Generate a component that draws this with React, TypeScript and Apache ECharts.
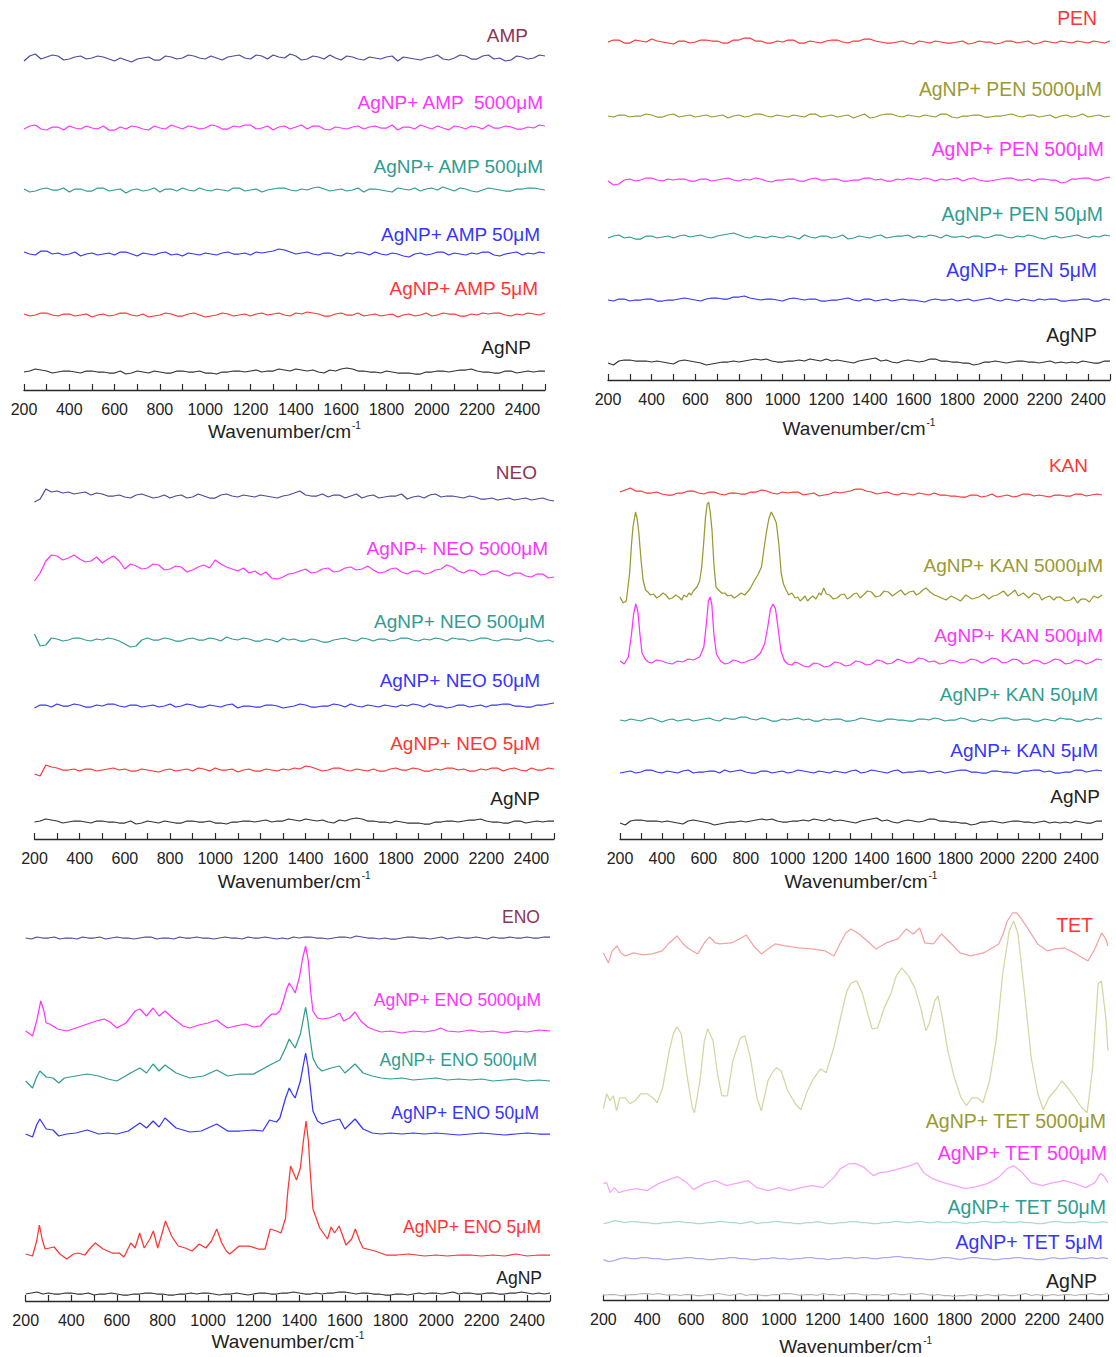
import React, { useEffect, useRef } from "react";
import * as echarts from "echarts";

// ---------- shared x grid (wavenumber, cm-1) ----------
const WN = [
  200, 225, 250, 275, 300, 325, 350, 375, 400, 425,
  450, 475, 500, 525, 550, 575, 600, 625, 650, 675,
  700, 725, 750, 775, 800, 825, 850, 875, 900, 925,
  950, 975, 1000, 1025, 1050, 1075, 1100, 1125, 1150, 1175,
  1200, 1225, 1250, 1275, 1300, 1325, 1350, 1375, 1400, 1425,
  1450, 1475, 1500, 1525, 1550, 1575, 1600, 1625, 1650, 1675,
  1700, 1725, 1750, 1775, 1800, 1825, 1850, 1875, 1900, 1925,
  1950, 1975, 2000, 2025, 2050, 2075, 2100, 2125, 2150, 2175,
  2200, 2225, 2250, 2275, 2300, 2325, 2350, 2375, 2400, 2425,
  2450, 2475, 2500,
];
const TICK_MIN = 200;
const TICK_MAX = 2500;
const AXIS_TITLE = "{a|Wavenumber/cm}{b|-1}";

// ---------- trace labels ----------
const AMP_LABELS = ["AMP", "AgNP+ AMP  5000μM", "AgNP+ AMP 500μM", "AgNP+ AMP 50μM", "AgNP+ AMP 5μM", "AgNP"];
const PEN_LABELS = ["PEN", "AgNP+ PEN 5000μM", "AgNP+ PEN 500μM", "AgNP+ PEN 50μM", "AgNP+ PEN 5μM", "AgNP"];
const NEO_LABELS = ["NEO", "AgNP+ NEO 5000μM", "AgNP+ NEO 500μM", "AgNP+ NEO 50μM", "AgNP+ NEO 5μM", "AgNP"];
const KAN_LABELS = ["KAN", "AgNP+ KAN 5000μM", "AgNP+ KAN 500μM", "AgNP+ KAN 50μM", "AgNP+ KAN 5μM", "AgNP"];
const ENO_LABELS = ["ENO", "AgNP+ ENO 5000μM", "AgNP+ ENO 500μM", "AgNP+ ENO 50μM", "AgNP+ ENO 5μM", "AgNP"];
const TET_LABELS = ["TET", "AgNP+ TET 5000μM", "AgNP+ TET 500μM", "AgNP+ TET 50μM", "AgNP+ TET 5μM", "AgNP"];

// ---------- stacking offsets (a.u.) of flat / noisy spectra ----------
const AMP_OFFSETS = [332, 262, 200, 136, 75, 18];
const PEN_OFFSETS = [338, 264, 200, 143, 80, 18];
const NEO_OFFSETS = [342, 0, 199, 133, 69, 17];
const KAN_OFFSETS = [345, 0, 0, 119, 67, 17];
const ENO_OFFSETS = [363, 0, 0, 0, 0, 7];
const TET_OFFSETS = [0, 0, 0, 78, 42, 5];

// ---------- noise of the flat spectra (a.u., on WN grid) ----------
const AMP_AMP = [
  -3, 2, 4, -1, 1, 3, 2, -2, -1, 1, 2, -1, 0, 2, 1, -1, -3, 0, -2, -4,
  -1, 0, 1, -2, -2, 2, 1, -1, 0, 3, 2, 0, -1, 2, 0, -2, 1, 2, 3, 0,
  -1, 3, 2, -1, 3, 1, 0, 4, 2, -2, -1, 2, 1, -1, 3, 0, -2, 2, 1, -1,
  -2, 1, 0, -1, 1, 2, -3, 1, 0, -1, -2, 0, 1, 3, -1, -2, 0, 3, 2, -1,
  -1, 2, 3, -1, 0, -3, -2, 2, 1, -1, 0, 3, 2,
];
const AMP_5000 = [
  -1, 2, 3, -1, -2, 1, 1, -2, 2, 0, -1, 2, 0, -1, 2, -2, -2, 1, -1, 2,
  1, -1, -2, 2, 0, -1, 3, 1, -1, 2, 1, -1, 0, 3, 2, -1, -1, 2, 1, 3,
  3, -1, 0, 2, -2, 1, 2, -1, 1, 3, -1, 2, 2, -1, -2, 1, 0, -1, 1, 2,
  -1, 1, 2, 0, 0, 3, -2, 1, 1, -1, 3, 1, -1, 2, 0, -2, 2, 1, -1, 2,
  1, -1, 3, 0, 0, 2, 1, -1, -1, 1, 0, 3, 2,
];
const AMP_500 = [
  1, -2, -1, 1, 2, 0, 0, 2, -2, 1, 1, -1, -1, 2, 2, -1, 0, 1, -3, 0,
  1, -1, 0, 2, -2, 1, 1, -1, 2, 0, -1, 2, 0, -1, 1, 0, -1, 2, 2, -1,
  0, 1, -2, 0, 1, 2, 2, 0, -1, 1, 0, 2, 3, 1, -1, 0, 1, -1, 0, 2,
  -2, 1, 1, 0, -1, -2, 2, 1, 0, 2, -1, 1, 2, 0, 3, 1, -1, 2, 1, -1,
  -2, 0, 2, 1, 0, -1, -1, 1, 1, 2, 2, 1, 0,
];
const AMP_50 = [
  2, 0, -1, 3, 3, 0, 1, -1, 0, 2, -2, 0, 1, -1, 0, 1, -1, 2, 2, 0,
  -2, 1, 0, -1, 1, 2, -1, 0, -2, 1, 0, -1, 1, 0, -1, 1, 2, 0, 0, 1,
  -1, 2, 1, 2, 3, 5, 4, 2, 0, 1, 2, 0, -1, 1, 1, -1, -2, 1, 0, 2,
  1, -1, 2, 0, -1, 1, 0, -2, -3, 0, 1, -1, 0, 2, 2, -1, 1, 0, -1, 1,
  0, 2, 2, -1, -2, 0, 1, 2, -1, 1, 0, 2, 1,
];
const AMP_5 = [
  1, -1, 0, 2, 2, 0, -1, 1, 1, -1, 0, 1, -2, 0, 1, -1, 0, 2, 2, 0,
  -1, 1, -2, -1, 0, 2, 1, -1, -1, 1, 2, 0, -2, -1, 0, 2, 1, -1, 0, 1,
  -1, 1, 2, 0, 1, 2, 0, -1, 2, 1, 3, 2, 1, -1, -1, 1, 2, 0, 0, 2,
  -1, 0, 1, -1, 0, 1, -2, 0, 1, -1, 0, 2, -1, 0, 2, 1, 1, -1, -1, 1,
  0, 2, 1, 2, 2, 0, -1, 1, 0, 2, 1, 0, 2,
];
const AGNP_A = [
  0, 1, 3, 2, 1, -1, 0, 1, 1, 0, -1, 1, 1, 0, 0, -1, -1, 1, -2, -1,
  1, 0, -1, 1, 0, -1, -1, 1, 1, 0, 0, 1, -1, -1, -2, 0, 0, 1, 1, 0,
  1, 2, 0, 1, 1, 3, 2, 1, 3, 2, 1, 2, 0, -1, 2, 1, 3, 4, 3, 1,
  1, 0, 0, -1, 1, 0, -1, -1, -1, -2, -2, 0, 0, 1, 1, 0, 1, 2, 2, 3,
  1, 0, 0, -1, -1, 1, 1, -1, 0, 1, 0, 1, 1,
];

const PEN_PEN = [
  0, 2, 2, -1, -1, 2, 1, 0, 3, 1, 0, -1, -2, 1, 1, -1, 0, 2, 2, 1,
  1, -1, -1, 2, 2, 4, 4, 1, 1, -1, -1, 1, 0, 2, 2, -1, -1, 1, 0, -1,
  1, 2, 2, 0, -1, 1, 1, 3, 3, 1, 0, -1, -1, 0, 1, -1, -2, 1, 0, -1,
  1, 0, -1, -1, 0, 1, -2, -1, 1, 0, 0, -2, -1, 1, 1, -1, 0, 1, -2, -1,
  1, 0, -1, 1, 0, -1, 1, 0, -1, 1, 0, -1, 1,
];
const PEN_5000 = [
  0, -1, 1, 1, -1, 0, 0, 2, 1, -1, -1, 1, 2, -1, 0, 1, -1, 0, 1, -1,
  0, 1, -2, 0, 1, -1, 0, 2, 2, 0, -1, 1, 0, -1, 1, 0, -1, 2, 2, -1,
  0, 1, -1, 0, 1, -2, 0, 2, -2, -1, 1, 2, 2, 0, -1, 1, 0, -1, 1, 0,
  -1, 2, 2, -1, -2, 0, 0, 1, 1, -1, -1, 0, 0, 1, 2, 0, -1, 1, 1, -1,
  0, 1, -2, 0, 1, -1, 0, 2, -1, 0, 1, -1, 0,
];
const PEN_500 = [
  -1, -5, -4, 0, 1, -1, 0, 2, 2, 0, -1, 1, 0, 1, 1, -1, -1, 1, 1, -1,
  0, 1, 2, 0, -1, 1, 0, 2, 1, -1, -2, 0, 0, 1, 1, -1, -1, 1, 2, 0,
  0, 1, 1, -1, -1, 0, 0, 2, 2, 0, 1, -1, -1, 1, 0, 2, 1, 0, 2, 1,
  -1, 1, 0, 1, 2, -1, 1, 2, 0, -1, -1, 0, 1, 2, 2, 0, 0, 1, -1, 1,
  1, 0, 0, -3, -2, 1, 1, 2, 2, 0, 0, 2, 3,
];
const PEN_50 = [
  -1, 1, 2, -1, 0, -2, -2, 1, 1, -1, 0, 1, -1, 1, 2, 0, 1, 2, 0, -1,
  1, 2, 3, 4, 2, 0, -1, 1, 0, -1, 1, 0, -1, 1, 0, -2, 2, 0, -1, 1,
  1, -1, 0, 2, -2, -1, 1, 0, -1, 1, 2, -1, 0, 1, 1, 2, -1, 1, 0, 2,
  1, -1, 2, 0, 0, 1, -1, 1, 1, -1, 0, 2, 2, 0, -1, 1, 0, 2, 1, -1,
  -2, 0, 1, -1, 0, 1, 2, 0, -1, 1, 0, 2, 1,
];
const PEN_5 = [
  0, -1, 1, 1, -1, 0, 0, 1, 1, -1, -1, 0, 0, 1, 2, 1, 0, -1, 1, 2,
  2, 1, 1, 3, 3, 4, 2, 1, 0, 1, 1, 0, -1, 1, 2, 1, 0, 1, 1, -1,
  -1, 0, 0, 1, 2, 0, -1, 1, 1, -1, 0, 1, -1, 0, 1, 0, 0, -1, -2, 0,
  1, 0, 0, 1, -1, 0, 1, -1, 0, 1, 2, 0, -1, 1, 0, -1, 1, 0, -1, 1,
  0, 1, 1, -1, -1, 0, 0, 1, 1, -1, -1, 1, 0,
];
const AGNP_B = [
  -1, -3, 1, 2, 2, 1, 1, 1, 0, 1, 0, -1, -2, 1, 2, 1, 0, -1, -3, -2,
  -1, 0, 0, 1, 0, 1, 2, 3, 2, 3, 1, 0, 0, 1, 1, 2, 1, 3, 2, 1,
  3, 1, 2, 1, 0, -1, 1, 2, 3, 4, 1, 2, 0, -1, 1, 2, 1, 0, 1, 3,
  3, 1, 1, 0, 0, -1, -1, -3, -2, 0, 0, 1, 0, -1, 0, 1, 1, 0, 0, -1,
  0, 1, -1, 0, -1, 0, -1, 1, 0, -1, -1, 1, 1,
];

const NEO_NEO = [
  -5, -2, 8, 5, 6, 4, 5, 3, 4, 5, 2, 4, 3, 1, 1, 2, 0, -1, 2, 3,
  1, -1, 0, 2, -1, 1, 2, -1, 0, 3, 1, -1, -1, 2, 3, 1, 0, 2, 1, 0,
  2, 1, 0, -1, 1, 2, 4, 6, 2, 1, 1, 3, 0, 2, 2, -1, 1, 3, -1, 1,
  2, -1, 0, 1, 1, 3, -2, 0, 1, -1, 2, 3, 0, 1, 1, 0, -1, 1, 0, -2,
  -2, -1, -3, -2, -1, -3, -2, -1, -3, -2, -1, -3, -4,
];
const NEO_5000 = [
  258, 266, 278, 284, 283, 279, 281, 284, 280, 277, 278, 282, 276, 280, 283, 278, 270, 275, 273, 270,
  271, 275, 274, 269, 270, 273, 272, 267, 269, 272, 274, 271, 279, 275, 272, 270, 268, 271, 266, 268,
  264, 267, 261, 260, 262, 265, 266, 268, 270, 266, 267, 270, 271, 267, 268, 271, 272, 269, 270, 273,
  269, 266, 267, 270, 271, 267, 265, 268, 268, 265, 266, 269, 270, 274, 272, 268, 266, 269, 268, 264,
  265, 268, 268, 265, 263, 266, 266, 263, 262, 265, 265, 261, 262,
];
const NEO_500 = [
  6, -6, -5, 2, 1, -1, 0, 2, 2, 0, -1, 1, 0, 2, 1, -1, -4, -7, -6, 0,
  2, 0, 0, 2, 1, -1, -1, 1, 2, 0, 0, 2, 1, -1, 3, 1, 0, 2, 1, -1,
  -1, 1, 0, -2, 2, 0, 1, -1, -1, 1, 0, -2, -2, 0, 1, 2, 0, -1, 2, 1,
  -1, 1, 1, -1, 0, 2, 2, 0, -1, 1, 0, 2, 1, -1, 2, 1, 1, -1, 0, 2,
  2, 0, -1, 1, 1, 0, 0, 2, 1, -1, -1, 0, -2,
];
const NEO_50 = [
  -2, 1, 1, -1, 2, 0, 0, 2, 1, -1, -1, 1, 0, 2, 2, 0, -1, 1, 1, -1,
  0, 1, -1, 0, 2, -1, 0, 2, 1, -1, -1, 1, 0, -1, 1, 2, -2, 0, 0, -1,
  -1, 1, 1, 0, -2, -1, 0, 2, 1, -1, -1, 0, 0, 2, 1, -1, 2, 0, -1, 1,
  0, -1, 1, 0, -1, 1, 0, 2, 1, -1, 2, 0, 0, -2, -1, 1, 1, -1, 0, 1,
  -1, 1, 1, 2, 2, 0, 0, -1, -1, 1, 1, 2, 3,
];
const NEO_5 = [
  -4, -6, 5, 3, 2, 0, 0, 1, -1, 1, 1, -1, 0, 1, 2, 0, 1, -1, -1, 1,
  0, -1, -2, 0, 1, -1, 0, 1, -1, 2, 1, -1, 2, 0, 0, 1, -2, 0, 1, -1,
  -1, 1, 0, -1, 1, 0, 2, 1, 4, 3, 1, -1, 0, 2, 2, 0, -1, 1, 0, -1,
  1, -1, -1, 1, 2, 0, 0, 2, 1, -1, -1, 1, 0, 2, 2, 0, 1, -1, -1, 1,
  0, 2, 2, -1, 1, 2, 0, -1, 2, 0, 0, 2, 1,
];

const KAN_KAN = [
  2, 4, 6, 3, 3, 1, 1, 2, 0, -1, -1, 1, 1, 3, 3, 1, 0, 2, 2, 0,
  -1, 1, 1, 0, 0, 2, 2, 4, 3, 1, 0, 2, 1, 2, 2, -1, 0, 1, -2, -1,
  0, 2, 1, 2, 3, 5, 5, 3, 2, 0, 1, 2, 0, -1, 1, 0, -1, 1, 0, -1,
  1, -1, -1, -2, -2, -3, -3, -1, -1, -3, -2, 0, -3, -2, -1, -3, -2, 0, 0, -2,
  -1, -2, -3, -1, -1, -2, -2, 0, 0, -2, -1, 0, -1,
];
const KAN_50 = [
  0, -1, 1, 0, -1, 1, 2, 0, -2, 0, 1, -1, 0, 1, -1, 0, 1, 2, 0, -1,
  2, 1, 1, 3, 3, 1, 0, 2, 1, -1, -1, 1, 0, 1, 2, 0, 1, -1, -1, 1,
  0, 1, 1, -1, -1, 0, 2, 1, 0, -1, -1, 1, 1, 0, 0, -1, -1, 1, 1, 0,
  2, 1, -1, 0, 0, 2, 1, -1, -1, 1, 0, -1, 1, 2, 2, 0, 0, 1, 1, -1,
  -1, 1, 0, -1, 2, 1, 1, -1, -1, 1, 0, 2, 1,
];
const KAN_5 = [
  -1, 0, 1, -1, 0, 2, 2, 0, -1, 1, 0, -1, 1, 2, -1, 0, 0, 1, 1, -1,
  2, 0, 1, 2, 0, -1, -1, 1, 1, -1, 0, 1, -1, 0, 2, 1, 0, -1, 1, 0,
  -1, 1, 0, -1, 1, 2, -1, 0, 2, 1, 0, -1, 1, 2, -1, 0, 0, 1, 1, -1,
  0, 1, -1, 0, 1, 2, 2, 0, 0, -1, -1, 1, 1, 0, 0, -1, -1, 1, 1, 2,
  2, 0, 1, -1, -1, 0, 0, 2, 2, 0, 1, 2, 1,
];

const ENO_ENO = [
  0, -1, 1, 0, 0, 1, -1, 0, 0, -1, 1, 0, 0, 1, -1, 0, 1, 0, 0, -1,
  0, 1, 1, -1, 0, 0, -1, 1, 0, 0, 1, 0, 0, -1, 0, 1, 0, 0, -1, 1,
  0, 0, 1, 0, -1, 0, -1, 1, 0, 1, 1, 0, 0, -1, 0, 1, 1, 0, 2, 1,
  0, 0, -1, 0, -1, -1, 0, 1, 1, 0, 0, -1, 0, 1, -1, 0, 1, 0, 0, 1,
  0, -1, 1, 0, 0, 1, 0, 0, 1, 0, 0, 1, 1,
];
const ENO_AGNP = [
  0, 1, 2, 0, 1, 0, 0, 1, 1, 0, 0, 1, -1, 0, 0, 1, 0, -1, -1, 0,
  0, 1, 1, 0, 0, -1, -1, 0, 0, 1, 0, 1, 1, 0, -1, 0, 0, 1, 0, -1,
  0, 1, 1, 0, 0, 1, 1, 2, 1, 0, 0, 1, 0, 1, 1, 2, 2, 1, 0, 1,
  1, 0, 0, -1, -1, 0, 0, -1, 0, 1, 0, 1, 1, 0, 1, 2, 0, 1, 1, 0,
  0, 1, 1, 0, 0, 1, 1, 2, 1, 0, 1, 0, 1,
];

const TET_50 = [
  -1, 0, 2, 1, 0, 1, 1, 0, 0, -1, -1, 0, 0, 1, 1, 0, 0, -1, -1, 0,
  0, 1, 1, 0, 0, -1, 0, 1, -1, 0, 0, 1, 1, 0, 0, -1, -1, 0, 0, 1,
  0, -1, -1, 0, 0, 1, 1, 0, 0, -1, -1, 0, 0, 1, 1, 0, 0, 1, 1, 0,
  0, 1, 0, 0, 1, 0, -1, 0, 0, 1, 1, 0, 0, 1, 0, 0, 1, 0, 0, -1,
  -1, 0, 1, 1, 0, 0, 0, 1, 1, 0, 0, 1, 0,
];
const TET_5 = [
  -1, -3, -2, 0, 1, 0, 0, 1, 1, 0, 0, -1, -1, 0, 0, 1, 1, 0, 0, -1,
  -1, 0, 0, 1, 1, 0, 0, -1, -1, 0, 0, 1, 0, 0, -1, 0, 0, 1, 1, 0,
  0, -1, 0, 0, 1, 1, 0, 1, 1, 0, 0, 1, 1, 2, 2, 1, 1, 0, 0, -1,
  -1, 0, 1, 1, 0, -1, 0, 1, 1, 0, 0, -1, -1, 0, 0, 1, 1, 0, 0, -1,
  -1, 0, 1, 0, 0, 1, 1, 0, 0, 1, 0, 1, 0,
];
const TET_AGNP = [
  0, 1, 1, 0, 0, 1, 1, 2, 2, 1, 2, 1, 0, 1, 0, 1, 1, 0, 0, 1,
  1, 2, 1, 0, 1, 2, 0, 1, 1, 0, 0, 1, 1, 2, 2, 1, 0, 1, 1, 0,
  2, 1, 1, 0, 1, 2, 2, 1, 0, 1, 1, 0, 1, 2, 1, 1, 2, 1, 2, 1,
  0, 1, 0, 0, -1, 0, 0, 1, 0, 0, 1, 0, 0, 1, 0, 0, 1, 2, 0, 1,
  0, 0, 1, 0, 1, 1, 0, 1, 1, 2, 1, 1, 2,
];

// ---------- spectra with bands: [wavenumber, intensity a.u.] ----------
const KAN_5000 = [[200, 242], [215, 236], [230, 238], [246, 266], [255, 295], [262, 312], [274, 327], [282, 320], [290, 306], [300, 280], [310, 259], [322, 249], [333, 247], [345, 244], [360, 245], [375, 241], [390, 243], [405, 246], [419, 244], [435, 240], [450, 241], [465, 244], [481, 242], [495, 239], [505, 244], [518, 242], [529, 246], [540, 244], [550, 248], [567, 252], [580, 258], [590, 272], [600, 298], [608, 322], [616, 335], [623, 337], [631, 326], [639, 309], [648, 275], [658, 252], [670, 249], [685, 246], [700, 246], [715, 243], [730, 244], [745, 241], [760, 243], [778, 246], [795, 244], [820, 250], [843, 259], [860, 265], [875, 272], [887, 290], [898, 306], [910, 320], [922, 327], [934, 322], [946, 316], [958, 295], [969, 266], [980, 255], [993, 249], [1005, 244], [1020, 246], [1035, 241], [1048, 242], [1060, 238], [1070, 240], [1083, 243], [1095, 238], [1108, 241], [1120, 243], [1135, 240], [1150, 246], [1160, 244], [1172, 251], [1185, 245], [1200, 244], [1218, 240], [1236, 241], [1252, 244], [1270, 245], [1285, 240], [1300, 242], [1315, 245], [1330, 246], [1346, 241], [1362, 244], [1380, 248], [1400, 247], [1420, 242], [1440, 243], [1460, 248], [1480, 247], [1500, 243], [1519, 246], [1540, 249], [1560, 244], [1580, 247], [1600, 248], [1615, 244], [1630, 246], [1645, 249], [1660, 251], [1680, 247], [1700, 244], [1725, 242], [1755, 239], [1780, 243], [1800, 241], [1825, 238], [1850, 244], [1880, 240], [1912, 242], [1935, 245], [1960, 240], [1980, 243], [2000, 244], [2030, 248], [2050, 243], [2069, 246], [2085, 249], [2100, 243], [2125, 246], [2150, 241], [2175, 246], [2200, 244], [2213, 239], [2226, 241], [2250, 243], [2270, 239], [2285, 242], [2300, 242], [2325, 238], [2350, 239], [2365, 242], [2383, 236], [2400, 240], [2420, 240], [2440, 237], [2460, 243], [2480, 241], [2500, 244]];
const KAN_500 = [[200, 178], [220, 175], [240, 182], [255, 205], [265, 225], [275, 235], [285, 228], [295, 205], [305, 186], [320, 180], [335, 177], [350, 176], [375, 179], [400, 178], [425, 176], [450, 175], [475, 178], [500, 177], [525, 180], [550, 179], [580, 182], [600, 192], [612, 215], [622, 238], [630, 242], [638, 235], [648, 205], [660, 185], [680, 178], [700, 175], [720, 176], [740, 179], [760, 178], [780, 176], [800, 177], [820, 179], [840, 180], [870, 186], [890, 195], [905, 212], [918, 230], [930, 235], [942, 230], [955, 210], [968, 188], [985, 178], [1000, 175], [1020, 174], [1035, 177], [1050, 176], [1075, 173], [1100, 172], [1125, 176], [1150, 175], [1175, 172], [1200, 173], [1225, 177], [1250, 176], [1275, 173], [1300, 174], [1325, 178], [1350, 177], [1375, 174], [1400, 175], [1425, 179], [1450, 178], [1475, 175], [1500, 176], [1525, 180], [1550, 178], [1575, 176], [1600, 177], [1625, 181], [1650, 180], [1675, 177], [1700, 178], [1725, 175], [1750, 176], [1775, 179], [1800, 178], [1825, 176], [1850, 177], [1875, 180], [1900, 179], [1925, 176], [1950, 178], [1975, 181], [2000, 180], [2025, 176], [2050, 177], [2075, 180], [2100, 179], [2125, 175], [2150, 176], [2175, 179], [2200, 178], [2225, 175], [2250, 177], [2275, 180], [2300, 179], [2325, 175], [2350, 176], [2375, 179], [2400, 178], [2425, 175], [2450, 177], [2475, 180], [2500, 179]];

const ENO_5000 = [[200, 270], [230, 265], [248, 280], [266, 300], [280, 290], [290, 278], [305, 277], [340, 272], [380, 270], [420, 273], [470, 277], [510, 280], [544, 282], [570, 279], [600, 273], [640, 278], [680, 290], [701, 292], [730, 285], [759, 293], [785, 285], [811, 290], [850, 282], [890, 275], [920, 273], [960, 276], [1000, 278], [1038, 281], [1060, 277], [1086, 273], [1120, 275], [1165, 277], [1200, 274], [1230, 275], [1255, 282], [1280, 287], [1300, 287], [1315, 290], [1330, 300], [1345, 312], [1356, 318], [1370, 313], [1382, 308], [1400, 323], [1415, 343], [1428, 355], [1440, 340], [1450, 310], [1460, 290], [1480, 283], [1500, 282], [1530, 283], [1555, 285], [1577, 288], [1595, 280], [1620, 283], [1645, 289], [1670, 280], [1700, 274], [1730, 271], [1760, 269], [1800, 270], [1850, 268], [1900, 270], [1950, 269], [2000, 271], [2020, 273], [2050, 270], [2100, 269], [2150, 271], [2200, 269], [2250, 270], [2300, 268], [2350, 270], [2400, 269], [2450, 271], [2500, 270]];
const ENO_500 = [[200, 220], [230, 213], [248, 224], [262, 230], [290, 224], [320, 223], [345, 218], [370, 223], [420, 225], [470, 227], [520, 225], [560, 222], [600, 220], [630, 224], [660, 228], [701, 233], [730, 228], [759, 237], [785, 230], [811, 236], [860, 228], [920, 223], [980, 225], [1038, 231], [1086, 225], [1140, 227], [1200, 227], [1240, 232], [1280, 237], [1315, 241], [1340, 253], [1356, 262], [1370, 257], [1382, 253], [1405, 267], [1418, 282], [1428, 294], [1438, 280], [1448, 262], [1460, 243], [1480, 234], [1500, 230], [1540, 233], [1577, 235], [1600, 228], [1645, 237], [1680, 228], [1720, 225], [1760, 223], [1800, 222], [1850, 223], [1900, 221], [1950, 222], [2000, 223], [2050, 221], [2100, 222], [2150, 221], [2200, 222], [2250, 220], [2300, 221], [2350, 222], [2400, 220], [2450, 221], [2500, 220]];
const ENO_50 = [[200, 167], [230, 164], [248, 176], [262, 182], [290, 172], [320, 171], [345, 165], [380, 167], [420, 168], [470, 171], [520, 167], [560, 168], [600, 167], [650, 170], [701, 178], [730, 173], [759, 180], [785, 174], [811, 183], [860, 173], [920, 169], [970, 170], [1038, 177], [1086, 170], [1140, 170], [1200, 171], [1240, 170], [1270, 181], [1300, 179], [1315, 183], [1340, 203], [1356, 213], [1370, 207], [1382, 203], [1405, 220], [1418, 236], [1428, 248], [1438, 235], [1448, 215], [1460, 190], [1480, 180], [1500, 177], [1540, 180], [1577, 182], [1600, 172], [1645, 182], [1680, 172], [1720, 168], [1760, 167], [1800, 168], [1850, 167], [1900, 168], [1950, 167], [2000, 168], [2050, 167], [2100, 166], [2150, 167], [2200, 168], [2250, 167], [2300, 166], [2350, 167], [2400, 168], [2450, 167], [2500, 167]];
const ENO_5 = [[200, 47], [230, 45], [248, 60], [260, 76], [272, 62], [285, 52], [305, 53], [325, 54], [350, 47], [380, 42], [410, 47], [430, 48], [460, 46], [480, 52], [505, 58], [540, 52], [580, 48], [610, 48], [631, 44], [661, 58], [680, 53], [700, 68], [720, 53], [745, 62], [760, 70], [779, 53], [795, 65], [813, 80], [840, 65], [869, 55], [900, 53], [930, 50], [961, 57], [990, 53], [1015, 60], [1038, 72], [1060, 58], [1080, 50], [1095, 47], [1136, 55], [1180, 55], [1220, 52], [1250, 52], [1273, 72], [1300, 70], [1320, 68], [1340, 83], [1350, 110], [1362, 135], [1375, 128], [1388, 121], [1405, 133], [1418, 160], [1430, 180], [1440, 160], [1448, 130], [1460, 92], [1490, 73], [1524, 62], [1540, 74], [1555, 68], [1575, 75], [1605, 56], [1630, 62], [1646, 72], [1665, 60], [1680, 53], [1733, 50], [1780, 46], [1830, 46], [1880, 47], [1950, 45], [2000, 46], [2050, 45], [2100, 46], [2150, 46], [2200, 45], [2250, 46], [2300, 45], [2350, 47], [2400, 45], [2450, 46], [2500, 46]];

const TET_TET = [[200, 348], [223, 338], [240, 350], [262, 355], [280, 348], [300, 345], [338, 348], [380, 346], [422, 347], [468, 350], [500, 358], [535, 365], [560, 358], [584, 353], [630, 347], [660, 358], [684, 364], [710, 358], [730, 357], [783, 358], [820, 362], [851, 366], [885, 355], [920, 347], [950, 352], [983, 357], [1030, 355], [1088, 353], [1150, 352], [1211, 350], [1251, 345], [1280, 358], [1305, 368], [1328, 372], [1366, 367], [1413, 358], [1443, 352], [1489, 358], [1542, 362], [1581, 372], [1612, 367], [1642, 373], [1665, 358], [1704, 357], [1741, 367], [1787, 357], [1826, 348], [1872, 345], [1933, 348], [2002, 357], [2020, 366], [2041, 380], [2065, 388], [2084, 388], [2105, 382], [2133, 373], [2179, 357], [2225, 350], [2260, 352], [2302, 353], [2356, 347], [2385, 343], [2409, 340], [2440, 352], [2471, 368], [2490, 362], [2500, 355]];
const TET_5000 = [[200, 192], [215, 207], [230, 200], [245, 205], [260, 190], [275, 203], [300, 203], [320, 197], [345, 200], [370, 207], [400, 207], [430, 202], [445, 198], [470, 213], [500, 250], [520, 268], [535, 274], [555, 267], [580, 227], [605, 193], [615, 188], [640, 220], [660, 260], [675, 272], [700, 260], [720, 227], [740, 205], [765, 205], [790, 240], [825, 263], [845, 265], [870, 243], [900, 203], [920, 190], [950, 220], [975, 230], [990, 233], [1010, 230], [1040, 210], [1075, 197], [1100, 191], [1130, 210], [1160, 223], [1190, 232], [1215, 228], [1250, 253], [1285, 287], [1310, 310], [1330, 318], [1355, 320], [1380, 308], [1405, 287], [1425, 272], [1450, 273], [1480, 293], [1510, 307], [1535, 325], [1560, 333], [1590, 325], [1620, 313], [1650, 290], [1670, 270], [1685, 277], [1710, 300], [1725, 305], [1745, 283], [1770, 250], [1800, 223], [1830, 203], [1855, 195], [1880, 203], [1905, 203], [1930, 198], [1960, 220], [1990, 260], [2020, 327], [2050, 370], [2070, 380], [2090, 367], [2120, 307], [2150, 243], [2180, 207], [2205, 191], [2230, 203], [2265, 212], [2290, 220], [2320, 212], [2350, 203], [2380, 193], [2405, 188], [2430, 233], [2455, 317], [2470, 320], [2490, 283], [2500, 250]];
const TET_500 = [[200, 117], [215, 118], [230, 108], [250, 113], [270, 108], [300, 110], [350, 112], [400, 110], [450, 117], [510, 122], [540, 124], [580, 118], [610, 111], [660, 117], [710, 120], [760, 115], [800, 117], [860, 120], [900, 113], [950, 110], [1000, 113], [1050, 110], [1100, 113], [1150, 115], [1200, 113], [1250, 123], [1280, 132], [1320, 137], [1350, 137], [1390, 133], [1430, 125], [1460, 128], [1500, 129], [1550, 132], [1600, 135], [1630, 138], [1660, 128], [1700, 122], [1750, 118], [1800, 115], [1850, 112], [1900, 114], [1950, 117], [2000, 123], [2040, 132], [2070, 135], [2100, 130], [2150, 118], [2200, 115], [2250, 118], [2300, 120], [2350, 117], [2400, 113], [2440, 118], [2465, 127], [2480, 125], [2500, 118]];

// ---------- styles ----------
const FONT = '"Liberation Sans", Arial, Helvetica, sans-serif';
const C = {
  maroon: "#8e3553",
  slate: "#4b4b9e",
  magenta: "#ff33ff",
  teal: "#2f9c91",
  blue: "#3535ff",
  red: "#ff3535",
  olive: "#9a9a30",
  dark: "#333333",
  text: "#222222",
  pRed: "#f5a3a3",
  pOlive: "#d5d5a3",
  pMagenta: "#f7a5f7",
  pTeal: "#a8dbd5",
  pBlue: "#ababf5",
  pGray: "#b3b3b3",
};

const noisy = (offset: number, dev: number[]) => WN.map((x, i) => [x, offset + dev[i]]);

type Panel = {
  grid: { left: number; top: number; width: number; height: number };
  nameGap: number;
  labelSize: number;
  labels: string[];
  labelPos: number[][];
  labelColors: string[];
  lineColors: string[];
  data: number[][][];
};

const PANELS: Panel[] = [
  {
    grid: { left: 24, top: 0, width: 521, height: 390 },
    nameGap: 30,
    labelSize: 19,
    labels: AMP_LABELS,
    labelPos: [[528, 35], [543, 102], [543, 166], [540, 234], [538, 288], [531, 347]],
    labelColors: [C.maroon, C.magenta, C.teal, C.blue, C.red, C.text],
    lineColors: [C.slate, C.magenta, C.teal, C.blue, C.red, C.dark],
    data: [
      noisy(AMP_OFFSETS[0], AMP_AMP),
      noisy(AMP_OFFSETS[1], AMP_5000),
      noisy(AMP_OFFSETS[2], AMP_500),
      noisy(AMP_OFFSETS[3], AMP_50),
      noisy(AMP_OFFSETS[4], AMP_5),
      noisy(AMP_OFFSETS[5], AGNP_A),
    ],
  },
  {
    grid: { left: 608, top: 0, width: 502, height: 380 },
    nameGap: 37,
    labelSize: 19.4,
    labels: PEN_LABELS,
    labelPos: [[1097, 18], [1102, 89], [1104, 149], [1103, 214], [1097, 270], [1097, 335]],
    labelColors: [C.red, C.olive, C.magenta, C.teal, C.blue, C.text],
    lineColors: [C.red, C.olive, C.magenta, C.teal, C.blue, C.dark],
    data: [
      noisy(PEN_OFFSETS[0], PEN_PEN),
      noisy(PEN_OFFSETS[1], PEN_5000),
      noisy(PEN_OFFSETS[2], PEN_500),
      noisy(PEN_OFFSETS[3], PEN_50),
      noisy(PEN_OFFSETS[4], PEN_5),
      noisy(PEN_OFFSETS[5], AGNP_B),
    ],
  },
  {
    grid: { left: 34.5, top: 450, width: 519.5, height: 389 },
    nameGap: 31,
    labelSize: 19,
    labels: NEO_LABELS,
    labelPos: [[537, 472], [548, 548], [545, 621], [540, 680], [540, 743], [540, 798]],
    labelColors: [C.maroon, C.magenta, C.teal, C.blue, C.red, C.text],
    lineColors: [C.slate, C.magenta, C.teal, C.blue, C.red, C.dark],
    data: [
      noisy(NEO_OFFSETS[0], NEO_NEO),
      noisy(NEO_OFFSETS[1], NEO_5000),
      noisy(NEO_OFFSETS[2], NEO_500),
      noisy(NEO_OFFSETS[3], NEO_50),
      noisy(NEO_OFFSETS[4], NEO_5),
      noisy(NEO_OFFSETS[5], AGNP_A),
    ],
  },
  {
    grid: { left: 620, top: 450, width: 482, height: 389 },
    nameGap: 31,
    labelSize: 19,
    labels: KAN_LABELS,
    labelPos: [[1088, 465], [1103, 565], [1103, 635], [1098, 694], [1098, 750], [1100, 796]],
    labelColors: [C.red, C.olive, C.magenta, C.teal, C.blue, C.text],
    lineColors: [C.red, C.olive, C.magenta, C.teal, C.blue, C.dark],
    data: [
      noisy(KAN_OFFSETS[0], KAN_KAN),
      KAN_5000,
      KAN_500,
      noisy(KAN_OFFSETS[3], KAN_50),
      noisy(KAN_OFFSETS[4], KAN_5),
      noisy(KAN_OFFSETS[5], AGNP_B),
    ],
  },
  {
    grid: { left: 25.7, top: 900, width: 524.3, height: 401 },
    nameGap: 29,
    labelSize: 17.5,
    labels: ENO_LABELS,
    labelPos: [[540, 917], [541, 1000], [537, 1060], [539, 1113], [541, 1227], [542, 1278]],
    labelColors: [C.maroon, C.magenta, C.teal, C.blue, C.red, C.text],
    lineColors: [C.slate, C.magenta, C.teal, C.blue, C.red, C.dark],
    data: [
      noisy(ENO_OFFSETS[0], ENO_ENO),
      ENO_5000,
      ENO_500,
      ENO_50,
      ENO_5,
      noisy(ENO_OFFSETS[5], ENO_AGNP),
    ],
  },
  {
    grid: { left: 603.4, top: 900, width: 504.6, height: 401 },
    nameGap: 35,
    labelSize: 19.5,
    labels: TET_LABELS,
    labelPos: [[1093, 925], [1106, 1121], [1107, 1153], [1106, 1207], [1103, 1242], [1097, 1281]],
    labelColors: [C.red, C.olive, C.magenta, C.teal, C.blue, C.text],
    lineColors: [C.pRed, C.pOlive, C.pMagenta, C.pTeal, C.pBlue, C.pGray],
    data: [
      TET_TET,
      TET_5000,
      TET_500,
      noisy(TET_OFFSETS[3], TET_50),
      noisy(TET_OFFSETS[4], TET_5),
      noisy(TET_OFFSETS[5], TET_AGNP),
    ],
  },
];

function buildOption() {
  const grid = PANELS.map((p) => ({ ...p.grid, containLabel: false }));
  const xAxis = PANELS.map((p, i) => ({
    type: "value",
    gridIndex: i,
    min: TICK_MIN,
    max: TICK_MAX,
    interval: 100,
    axisLine: { show: true, onZero: false, lineStyle: { color: "#2a2a2a", width: 1.3 } },
    axisTick: { show: true, inside: true, length: 6, lineStyle: { color: "#2a2a2a", width: 1.2 } },
    splitLine: { show: false },
    axisLabel: {
      margin: 11,
      fontSize: 16,
      color: C.text,
      fontFamily: FONT,
      formatter: (v: number) => (v % 200 === 0 && v < 2500 ? String(v) : ""),
    },
    name: AXIS_TITLE,
    nameLocation: "middle",
    nameGap: p.nameGap,
    nameTextStyle: {
      rich: {
        a: { fontSize: 19, fontFamily: FONT, color: C.text, lineHeight: 22 },
        b: { fontSize: 10, fontFamily: FONT, color: C.text, lineHeight: 22, verticalAlign: "top", padding: [0, 0, 10, 1] },
      },
    },
  }));
  const yAxis = PANELS.map((p, i) => ({ type: "value", gridIndex: i, min: 0, max: p.grid.height, show: false }));
  const series: any[] = [];
  const graphic: any[] = [];
  PANELS.forEach((p, i) => {
    p.data.forEach((d, k) => {
      series.push({
        type: "line",
        xAxisIndex: i,
        yAxisIndex: i,
        data: d,
        showSymbol: false,
        symbol: "none",
        smooth: false,
        lineStyle: { color: p.lineColors[k], width: 1.25 },
        silent: true,
      });
    });
    p.labels.forEach((t, k) => {
      graphic.push({
        type: "text",
        x: p.labelPos[k][0],
        y: p.labelPos[k][1],
        style: {
          text: t,
          fill: p.labelColors[k],
          fontSize: p.labelSize,
          fontFamily: FONT,
          align: "right",
          verticalAlign: "middle",
        },
      });
    });
  });
  return {
    animation: false,
    backgroundColor: "#ffffff",
    grid,
    xAxis,
    yAxis,
    series,
    graphic,
  };
}

export default function App() {
  const ref = useRef<HTMLDivElement>(null);
  useEffect(() => {
    if (!ref.current) return;
    const chart = echarts.init(ref.current, undefined, { renderer: "svg" });
    chart.setOption(buildOption() as any);
    return () => chart.dispose();
  }, []);
  return (
    <div
      ref={ref}
      style={{ position: "absolute", left: 0, top: 0, width: 1116, height: 1357, background: "#fff" }}
    />
  );
}
